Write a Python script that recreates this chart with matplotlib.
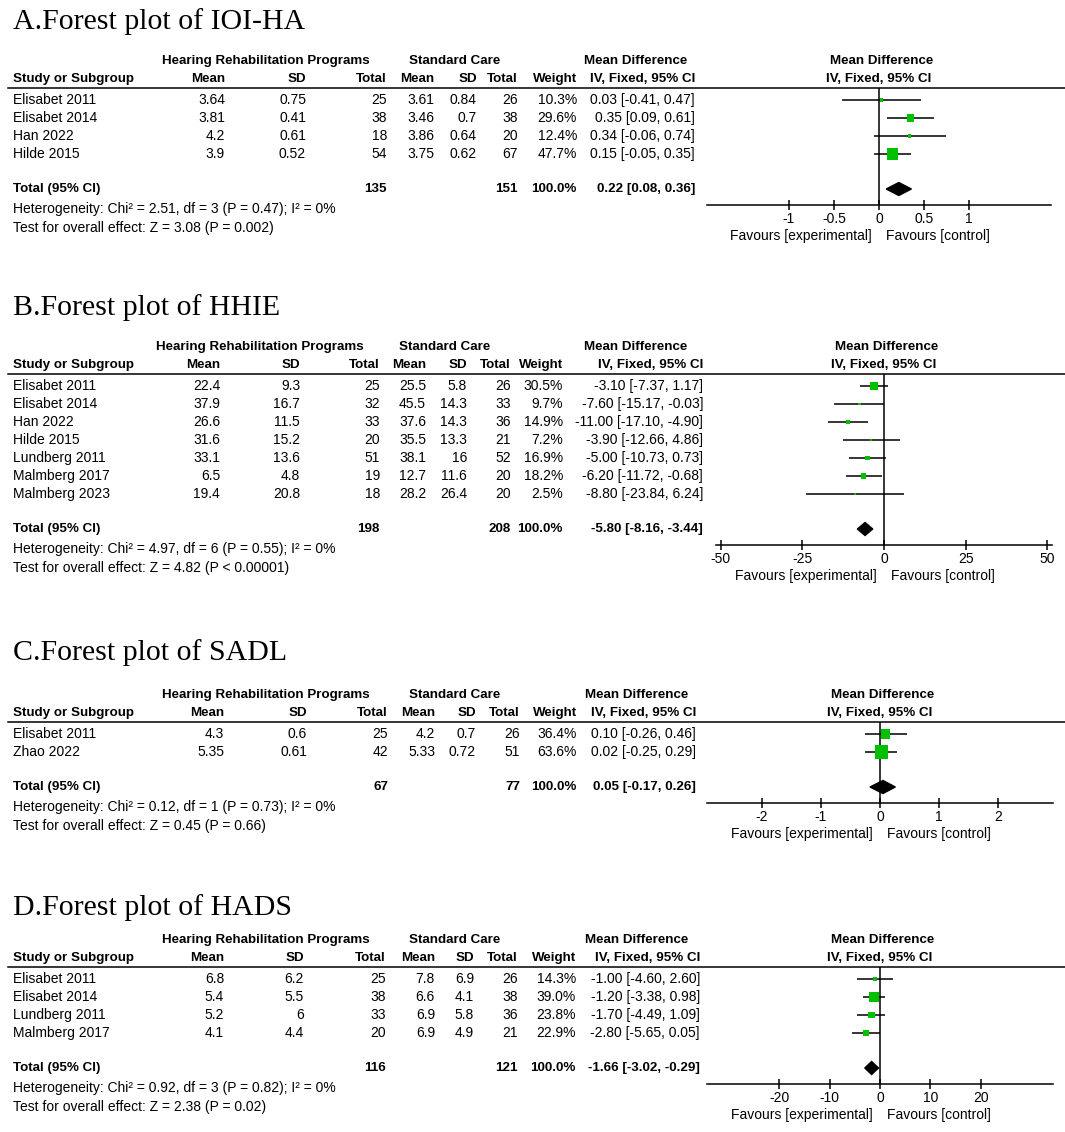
import matplotlib
matplotlib.use('Agg')
import matplotlib.pyplot as plt
from matplotlib.lines import Line2D
from matplotlib.patches import Polygon

W, H = 1065, 1132

plt.rcParams['font.family'] = ['Liberation Sans', 'DejaVu Sans']
plt.rcParams['font.size'] = 10
plt.rcParams['axes.unicode_minus'] = False

GREEN = '#00c000'
BOLD_SIZE = 9.6

# ---- A. IOI-HA
a_title = "A.Forest plot of IOI-HA"
a_studies = ["Elisabet 2011", "Elisabet 2014", "Han 2022", "Hilde 2015"]
a_e_mean = [3.64, 3.81, 4.2, 3.9]
a_e_sd = [0.75, 0.41, 0.61, 0.52]
a_e_n = [25, 38, 18, 54]
a_c_mean = [3.61, 3.46, 3.86, 3.75]
a_c_sd = [0.84, 0.7, 0.64, 0.62]
a_c_n = [26, 38, 20, 67]
a_weight = [10.3, 29.6, 12.4, 47.7]
a_md = [0.03, 0.35, 0.34, 0.15]
a_lo = [-0.41, 0.09, -0.06, -0.05]
a_hi = [0.47, 0.61, 0.74, 0.35]
a_total = [135, 151, 0.22, 0.08, 0.36]
a_het = "Heterogeneity: Chi\u00b2 = 2.51, df = 3 (P = 0.47); I\u00b2 = 0%"
a_test = "Test for overall effect: Z = 3.08 (P = 0.002)"
a_ticks = [-1, -0.5, 0, 0.5, 1]
a_ticklabels = ["-1", "-0.5", "0", "0.5", "1"]
a_xlim = (-1.91, 1.91)

# ---- B. HHIE
b_title = "B.Forest plot of HHIE"
b_studies = ["Elisabet 2011", "Elisabet 2014", "Han 2022", "Hilde 2015",
             "Lundberg 2011", "Malmberg 2017", "Malmberg 2023"]
b_e_mean = [22.4, 37.9, 26.6, 31.6, 33.1, 6.5, 19.4]
b_e_sd = [9.3, 16.7, 11.5, 15.2, 13.6, 4.8, 20.8]
b_e_n = [25, 32, 33, 20, 51, 19, 18]
b_c_mean = [25.5, 45.5, 37.6, 35.5, 38.1, 12.7, 28.2]
b_c_sd = [5.8, 14.3, 14.3, 13.3, 16, 11.6, 26.4]
b_c_n = [26, 33, 36, 21, 52, 20, 20]
b_weight = [30.5, 9.7, 14.9, 7.2, 16.9, 18.2, 2.5]
b_md = [-3.10, -7.60, -11.00, -3.90, -5.00, -6.20, -8.80]
b_lo = [-7.37, -15.17, -17.10, -12.66, -10.73, -11.72, -23.84]
b_hi = [1.17, -0.03, -4.90, 4.86, 0.73, -0.68, 6.24]
b_total = [198, 208, -5.80, -8.16, -3.44]
b_het = "Heterogeneity: Chi\u00b2 = 4.97, df = 6 (P = 0.55); I\u00b2 = 0%"
b_test = "Test for overall effect: Z = 4.82 (P < 0.00001)"
b_ticks = [-50, -25, 0, 25, 50]
b_ticklabels = ["-50", "-25", "0", "25", "50"]
b_xlim = (-51.4, 51.4)

# ---- C. SADL
c_title = "C.Forest plot of SADL"
c_studies = ["Elisabet 2011", "Zhao 2022"]
c_e_mean = [4.3, 5.35]
c_e_sd = [0.6, 0.61]
c_e_n = [25, 42]
c_c_mean = [4.2, 5.33]
c_c_sd = [0.7, 0.72]
c_c_n = [26, 51]
c_weight = [36.4, 63.6]
c_md = [0.10, 0.02]
c_lo = [-0.26, -0.25]
c_hi = [0.46, 0.29]
c_total = [67, 77, 0.05, -0.17, 0.26]
c_het = "Heterogeneity: Chi\u00b2 = 0.12, df = 1 (P = 0.73); I\u00b2 = 0%"
c_test = "Test for overall effect: Z = 0.45 (P = 0.66)"
c_ticks = [-2, -1, 0, 1, 2]
c_ticklabels = ["-2", "-1", "0", "1", "2"]
c_xlim = (-2.93, 2.93)

# ---- D. HADS
d_title = "D.Forest plot of HADS"
d_studies = ["Elisabet 2011", "Elisabet 2014", "Lundberg 2011", "Malmberg 2017"]
d_e_mean = [6.8, 5.4, 5.2, 4.1]
d_e_sd = [6.2, 5.5, 6, 4.4]
d_e_n = [25, 38, 33, 20]
d_c_mean = [7.8, 6.6, 6.9, 6.9]
d_c_sd = [6.9, 4.1, 5.8, 4.9]
d_c_n = [26, 38, 36, 21]
d_weight = [14.3, 39.0, 23.8, 22.9]
d_md = [-1.00, -1.20, -1.70, -2.80]
d_lo = [-4.60, -3.38, -4.49, -5.65]
d_hi = [2.60, 0.98, 1.09, 0.05]
d_total = [116, 121, -1.66, -3.02, -0.29]
d_het = "Heterogeneity: Chi\u00b2 = 0.92, df = 3 (P = 0.82); I\u00b2 = 0%"
d_test = "Test for overall effect: Z = 2.38 (P = 0.02)"
d_ticks = [-20, -10, 0, 10, 20]
d_ticklabels = ["-20", "-10", "0", "10", "20"]
d_xlim = (-34.3, 34.3)

# layout (pixels) per panel
title_y = [22, 308, 653, 908]
head_y = [61, 347, 695, 940]
# right edges of the numeric columns
col_x = [[225, 306, 387, 434, 477, 518, 577, 695],
         [220, 300, 380, 426, 467, 511, 563, 703],
         [224, 307, 388, 435, 476, 520, 577, 696],
         [224, 304, 386, 435, 474, 518, 576, 700]]
hrp_x = [266, 260, 266, 266]
sc_x = [455, 445, 455, 455]
md_x = [636, 636, 637, 637]
plot_lr = [(707, 1051), (716, 1052), (707, 1053), (707, 1053)]

ROW = 18.0
col_head = ["Mean", "SD", "Total", "Mean", "SD", "Total", "Weight", "IV, Fixed, 95% CI"]


def fx(x):
    return x / W


def fy(y):
    return 1 - y / H


def txt(fig, x, y, s, ha='left', bold=False, **kw):
    if bold:
        kw.setdefault('fontsize', BOLD_SIZE)
    fig.text(fx(x), fy(y), s, ha=ha, va='center',
             fontweight='bold' if bold else 'normal', **kw)


def draw_panel(fig, idx, title, studies, e_mean, e_sd, e_n, c_mean, c_sd, c_n,
               weight, md, lo, hi, total, het, test, ticks, ticklabels, xlim):
    h = head_y[idx]
    cols = col_x[idx]
    pl, pr = plot_lr[idx]
    zx = (pl + pr) / 2
    n = len(studies)
    txt(fig, 13, title_y[idx], title, family='Liberation Serif', fontsize=21.5)

    # header
    txt(fig, hrp_x[idx], h, "Hearing Rehabilitation Programs", ha='center', bold=True)
    txt(fig, sc_x[idx], h, "Standard Care", ha='center', bold=True)
    txt(fig, md_x[idx], h, "Mean Difference", ha='center', bold=True)
    txt(fig, zx + 3, h, "Mean Difference", ha='center', bold=True)
    txt(fig, 13, h + 18, "Study or Subgroup", bold=True)
    for x, s in zip(cols, col_head):
        txt(fig, x, h + 18, s, ha='right', bold=True)
    txt(fig, zx, h + 18, "IV, Fixed, 95% CI", ha='center', bold=True)
    line_y = h + 27
    fig.add_artist(Line2D([fx(8), fx(1065)], [fy(line_y), fy(line_y)],
                          color='black', lw=1.1, transform=fig.transFigure))

    # study rows
    row0 = h + 39
    for i in range(n):
        y = row0 + ROW * i
        txt(fig, 13, y, studies[i])
        vals = [f"{e_mean[i]:g}", f"{e_sd[i]:g}", f"{e_n[i]}",
                f"{c_mean[i]:g}", f"{c_sd[i]:g}", f"{c_n[i]}",
                f"{weight[i]:.1f}%",
                f"{md[i]:.2f} [{lo[i]:.2f}, {hi[i]:.2f}]"]
        for x, s in zip(cols, vals):
            txt(fig, x, y, s, ha='right')

    tot_y = row0 + ROW * (n - 1) + 35
    txt(fig, 13, tot_y, "Total (95% CI)", bold=True)
    txt(fig, cols[2], tot_y, f"{total[0]}", ha='right', bold=True)
    txt(fig, cols[5], tot_y, f"{total[1]}", ha='right', bold=True)
    txt(fig, cols[6], tot_y, "100.0%", ha='right', bold=True)
    txt(fig, cols[7], tot_y, f"{total[2]:.2f} [{total[3]:.2f}, {total[4]:.2f}]",
        ha='right', bold=True)
    txt(fig, 13, tot_y + 20, het)
    txt(fig, 13, tot_y + 39, test)

    # forest plot axes
    axis_y = tot_y + 16
    ax = fig.add_axes([fx(pl), fy(axis_y), (pr - pl) / W, (axis_y - line_y) / H])
    ax.set_xlim(*xlim)
    ax.set_ylim((axis_y - row0) / ROW, (line_y - row0) / ROW)
    ax.patch.set_visible(False)
    for s in ['top', 'right', 'left']:
        ax.spines[s].set_visible(False)
    ax.spines['bottom'].set_linewidth(1.1)
    ax.set_yticks([])
    ax.set_xticks(ticks)
    ax.set_xticklabels(ticklabels)
    ax.tick_params(axis='x', direction='inout', length=7.5, width=1.1, pad=1,
                   labelsize=10)

    ax.axvline(0, color='black', lw=1.1, zorder=1)
    rows = list(range(n))
    ax.hlines(rows, lo, hi, color='black', lw=1.1, zorder=2)
    sizes = [(max(2.0, 2.16 * w ** 0.5 - 3.9) * 0.72) ** 2 for w in weight]
    ax.scatter(md, rows, s=sizes, marker='s', color=GREEN, linewidths=0, zorder=3)

    ty = (tot_y - row0) / ROW
    dh = 6.5 / ROW
    ax.add_patch(Polygon([(total[3], ty), (total[2], ty - dh), (total[4], ty),
                          (total[2], ty + dh)], closed=True, color='black', zorder=4))

    ax.annotate("Favours [experimental]", xy=(0, 0), xycoords=('data', 'axes fraction'),
                xytext=(-5, -22), textcoords='offset points', ha='right', va='center')
    ax.annotate("Favours [control]", xy=(0, 0), xycoords=('data', 'axes fraction'),
                xytext=(5, -22), textcoords='offset points', ha='left', va='center')


fig = plt.figure(figsize=(W / 100, H / 100), dpi=100)

draw_panel(fig, 0, a_title, a_studies, a_e_mean, a_e_sd, a_e_n, a_c_mean, a_c_sd, a_c_n,
           a_weight, a_md, a_lo, a_hi, a_total, a_het, a_test, a_ticks, a_ticklabels, a_xlim)
draw_panel(fig, 1, b_title, b_studies, b_e_mean, b_e_sd, b_e_n, b_c_mean, b_c_sd, b_c_n,
           b_weight, b_md, b_lo, b_hi, b_total, b_het, b_test, b_ticks, b_ticklabels, b_xlim)
draw_panel(fig, 2, c_title, c_studies, c_e_mean, c_e_sd, c_e_n, c_c_mean, c_c_sd, c_c_n,
           c_weight, c_md, c_lo, c_hi, c_total, c_het, c_test, c_ticks, c_ticklabels, c_xlim)
draw_panel(fig, 3, d_title, d_studies, d_e_mean, d_e_sd, d_e_n, d_c_mean, d_c_sd, d_c_n,
           d_weight, d_md, d_lo, d_hi, d_total, d_het, d_test, d_ticks, d_ticklabels, d_xlim)

fig.savefig("out.png", dpi=100, facecolor='white')
